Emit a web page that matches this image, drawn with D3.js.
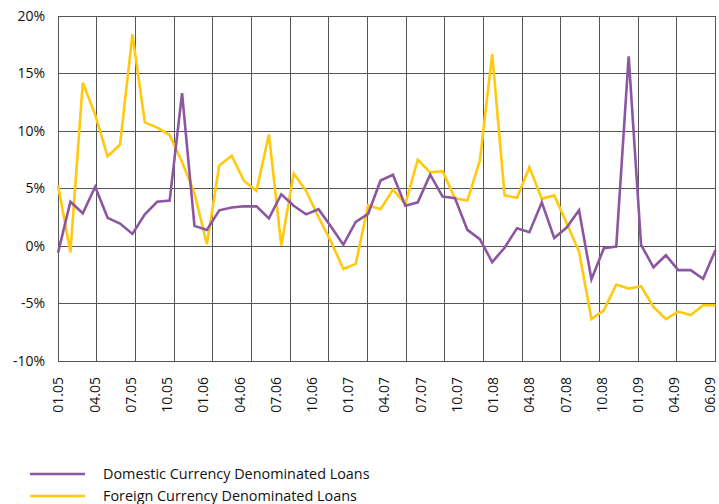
<!DOCTYPE html>
<html>
<head>
<meta charset="utf-8">
<script src="https://cdn.jsdelivr.net/npm/d3@7"></script>
<style>
	body { margin: 0; background: #fff; }
	svg { display: block; font-family: "Open Sans", sans-serif; }
</style>
</head>
<body>
<div id="chart"></div>
<script>
let tickLabels = ["01.05", "04.05", "07.05", "10.05", "01.06", "04.06", "07.06", "10.06",
	"01.07", "04.07", "07.07", "10.07", "01.08", "04.08", "07.08", "10.08", "01.09", "04.09", "06.09"];

// monthly, 01.05 .. 06.09 (54 points)
let domestic = [-0.6, 3.85, 2.85, 5.15, 2.45, 1.95, 1.05, 2.75, 3.85, 3.95,
	13.3, 1.75, 1.4, 3.1, 3.35, 3.45, 3.45, 2.4, 4.5, 3.5,
	2.75, 3.2, 1.7, 0.1, 2.1, 2.8, 5.7, 6.2, 3.5, 3.8,
	6.2, 4.3, 4.15, 1.4, 0.6, -1.4, -0.15, 1.55, 1.2, 3.8,
	0.7, 1.6, 3.1, -2.9, -0.2, -0.05, 16.5, 0.1, -1.85, -0.8,
	-2.1, -2.1, -2.85, -0.35];
let foreign = [5.3, -0.55, 14.2, 11.4, 7.8, 8.8, 18.4, 10.75, 10.3, 9.65,
	7.3, 4.6, 0.15, 7.0, 7.85, 5.65, 4.8, 9.7, 0.05, 6.3,
	4.8, 2.5, 0.4, -2.0, -1.55, 3.55, 3.2, 4.9, 3.65, 7.5,
	6.4, 6.5, 4.15, 3.95, 7.4, 16.7, 4.4, 4.2, 6.85, 4.1,
	4.4, 2.0, -0.5, -6.35, -5.6, -3.35, -3.7, -3.5, -5.3, -6.35,
	-5.7, -6.0, -5.15, -5.15];

let seriesNames = ["Domestic Currency Denominated Loans", "Foreign Currency Denominated Loans"];
let seriesColors = ["#8c56a1", "#ffc90d"];
let yTicks = [-10, -5, 0, 5, 10, 15, 20];

let width = 719, height = 504;
let margin = { top: 16, right: 3.5, bottom: 143, left: 58 };

let svg = d3.select("#chart").append("svg").
	attr("width", width).
	attr("height", height).
	attr("viewBox", `0, 0, ${width}, ${height}`);

let x = d3.scaleLinear().
	domain([0, domestic.length - 1]).
	range([margin.left, width - margin.right]);

let y = d3.scaleLinear().
	domain([-10, 20]).
	range([height - margin.bottom, margin.top]);

// labels sit a touch left of the plot edge so the last one stays inside
let xLabel = d3.scalePoint().
	domain(tickLabels).
	range([margin.left, width - 9]);

// vertical grid: 17 even cells across the plot
let xGrid = d3.scaleLinear().domain([0, 17]).range(x.range());

let grid = svg.append("g").
	attr("stroke", "#555").
	attr("stroke-width", 1).
	attr("shape-rendering", "crispEdges");

grid.selectAll("line.h").
	data(yTicks).
	join("line").
	attr("class", "h").
	attr("x1", margin.left).
	attr("x2", width - margin.right).
	attr("y1", d => y(d)).
	attr("y2", d => y(d));

grid.selectAll("line.v").
	data(d3.range(18)).
	join("line").
	attr("class", "v").
	attr("x1", d => xGrid(d)).
	attr("x2", d => xGrid(d)).
	attr("y1", y(20)).
	attr("y2", y(-10));

// y axis labels
let yAxis = svg.append("g").
	attr("transform", `translate(${margin.left - 13},0)`).
	call(d3.axisLeft(y).tickValues(yTicks).tickSize(0).tickPadding(0).tickFormat(d => d + "%"));
yAxis.select(".domain").remove();
yAxis.selectAll("text").
	attr("font-size", 14).
	attr("font-family", "Open Sans, sans-serif").
	attr("fill", "#111");

// x axis labels, rotated
let xAxis = svg.append("g").
	attr("transform", `translate(0,${height - margin.bottom})`).
	call(d3.axisBottom(xLabel).tickSize(0).tickPadding(0));
xAxis.select(".domain").remove();
xAxis.selectAll("text").
	attr("font-size", 14).
	attr("font-family", "Open Sans, sans-serif").
	attr("fill", "#111").
	attr("transform", "rotate(-90)").
	attr("text-anchor", "end").
	attr("x", -16).
	attr("y", 0).
	attr("dy", "0.35em");

let line = d3.line().
	x((d, i) => x(i)).
	y(d => y(d));

svg.append("g").
	attr("fill", "none").
	attr("stroke-width", 2.6).
	attr("stroke-linejoin", "miter").
	selectAll("path").
	data([foreign, domestic]).
	join("path").
	attr("stroke", (d, i) => i === 0 ? seriesColors[1] : seriesColors[0]).
	attr("d", line);

// legend
let legend = svg.append("g").
	selectAll("g").
	data(seriesNames).
	join("g").
	attr("transform", (d, i) => `translate(30,${474 + i * 22})`);

legend.append("line").
	attr("x1", 0).
	attr("x2", 55).
	attr("stroke", (d, i) => seriesColors[i]).
	attr("stroke-width", 2.6);

legend.append("text").
	attr("x", 73).
	attr("dy", "0.35em").
	attr("font-size", 14.4).
	attr("fill", "#111").
	text(d => d);
</script>
</body>
</html>
